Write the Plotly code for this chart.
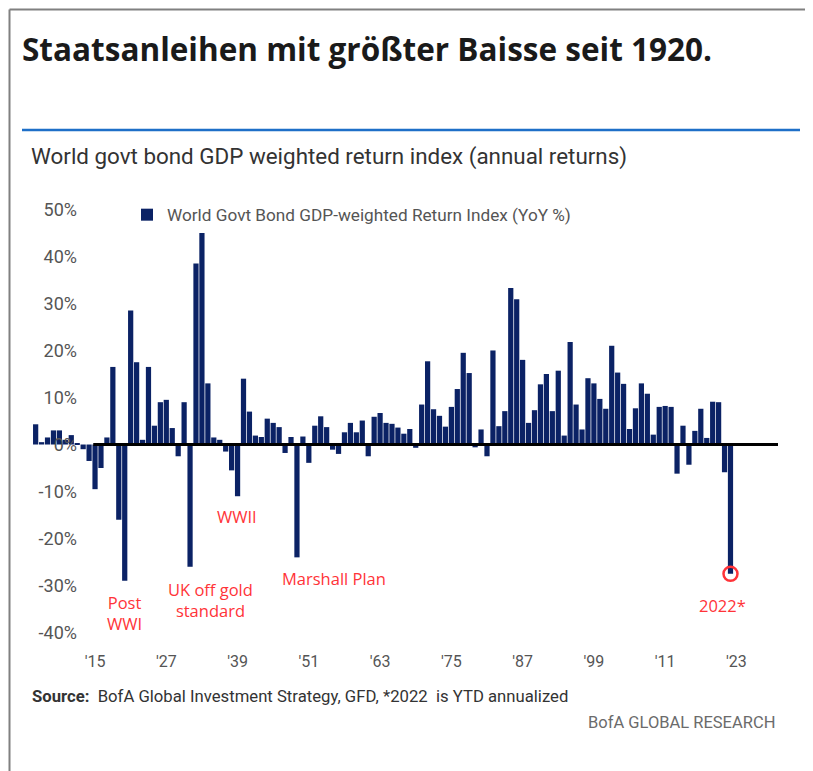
import plotly.graph_objects as go

# ---------------- data ----------------
years = list(range(1905, 2023))
returns = [
    4.3, 0.5, 1.5, 3.0, 3.0, 1.0, 2.0, 0.3, -1.0, -3.5,          # 1905-1914
    -9.5, -5.0, 1.5, 16.5, -16.0, -29.0, 28.5, 17.5, 1.0, 16.5,  # 1915-1924
    4.0, 9.0, 9.5, 3.5, -2.5, 9.0, -26.0, 38.5, 45.0, 13.0,      # 1925-1934
    1.5, 1.0, -1.5, -5.5, -11.0, 14.0, 7.0, 1.9, 1.6, 5.5,       # 1935-1944
    4.6, 3.7, -1.8, 1.6, -24.0, 1.7, -3.9, 4.0, 6.0, 3.7,        # 1945-1954
    -1.1, -2.0, 2.6, 4.6, 2.6, 5.1, -2.5, 5.9, 6.7, 4.6,         # 1955-1964
    4.4, 3.6, 2.3, 3.3, -0.7, 8.5, 17.7, 7.5, 6.1, 3.8,          # 1965-1974
    8.0, 11.8, 19.5, 15.2, -0.6, 3.2, -2.5, 20.0, 3.9, 7.1,      # 1975-1984
    33.3, 30.9, 18.0, 4.6, 7.3, 12.8, 15.0, 7.1, 15.7, 1.9,      # 1985-1994
    21.8, 8.5, 3.2, 14.1, 13.0, 9.7, 7.6, 21.0, 15.3, 12.9,      # 1995-2004
    3.3, 7.7, 13.0, 10.8, 2.1, 8.0, 8.2, 8.0, -6.2, 4.0,         # 2005-2014
    -4.3, 2.9, 7.6, 1.4, 9.1, 9.0, -5.9, -27.5,                  # 2015-2022
]
assert len(years) == len(returns)

tick_years = [1915, 1927, 1939, 1951, 1963, 1975, 1987, 1999, 2011, 2023]
tick_labels = ["'15", "'27", "'39", "'51", "'63", "'75", "'87", "'99", "'11", "'23"]
y_ticks = [50, 40, 30, 20, 10, 0, -10, -20, -30, -40]
y_tick_labels = [f"{v}%" for v in y_ticks]

events = [
    ("Post<br>WWI", 1920, -35.8),
    ("UK off gold<br>standard", 1934.4, -33.0),
    ("WWII", 1938.9, -15.4),
    ("Marshall Plan", 1955.2, -28.4),
    ("2022*", 2020.6, -34.2),
]

series_name = "World Govt Bond GDP-weighted Return Index (YoY %)"

# ---------------- style ----------------
NAVY = "#0b2265"
RED = "#ff3338"
GRAY = "#555555"
COND = "Roboto, sans-serif"

# the page body adds an 8px offset; the figure is sized to fill the rest of the window
OFF = 8
W, H = 813 - OFF, 771 - OFF
# plot area in screen pixels: x 30..778, y 200..642
ML, MR, MT, MB = 30 - OFF, 813 - 778, 200 - OFF, 771 - 642
pw = W - ML - MR
ph = H - MT - MB


def px_x(p):   # screen pixel -> paper x
    return (p - OFF - ML) / pw


def px_y(p):   # screen pixel -> paper y
    return (OFF + MT + ph - p) / ph


fig = go.Figure()
fig.add_trace(go.Bar(
    x=years, y=returns, name=series_name,
    marker=dict(color=NAVY, line=dict(width=0)),
    showlegend=True,
))

fig.update_layout(
    width=W, height=H,
    margin=dict(l=ML, r=MR, t=MT, b=MB, pad=0),
    paper_bgcolor="white", plot_bgcolor="white",
    bargap=0.12,
    title=dict(
        text="<b>Staatsanleihen mit größter Baisse seit 1920.</b>",
        x=(22 - OFF) / W, xanchor="left", y=1 - (50 - OFF) / H, yanchor="middle",
        font=dict(family="Open Sans, sans-serif", size=31.5, color="#1a1a1a"),
    ),
    xaxis=dict(
        range=[1904.05, 2030.0],
        tickvals=tick_years, ticktext=tick_labels,
        showgrid=False, zeroline=False, showline=False, ticks="",
        ticklabelstandoff=8,
        tickfont=dict(family=COND, size=16, color=GRAY),
    ),
    yaxis=dict(
        range=[-42, 52],
        tickvals=y_ticks, ticktext=y_tick_labels,
        showgrid=False, zeroline=False, showline=False, ticks="",
        anchor="free", position=px_x(77),
        tickfont=dict(family=COND, size=18, color=GRAY),
    ),
    legend=dict(
        x=px_x(127), xanchor="left", y=px_y(215), yanchor="middle",
        bgcolor="rgba(0,0,0,0)", itemwidth=30,
        font=dict(family=COND, size=17.2, color=GRAY),
    ),
    showlegend=True,
)

# zero line (starts at 1915 as in the original)
fig.add_shape(type="line", xref="x", yref="y", x0=1914.7, x1=2030.0, y0=0, y1=0,
              line=dict(color="black", width=3), layer="above")

# highlight circle around latest value
fig.add_shape(type="circle", xref="x", yref="y",
              xsizemode="pixel", ysizemode="pixel",
              xanchor=years[-1], yanchor=returns[-1],
              x0=-7, x1=7, y0=-7, y1=7,
              line=dict(color=RED, width=2.5), layer="above")

# blue rule under the headline
fig.add_shape(type="line", xref="paper", yref="paper",
              x0=px_x(22), x1=px_x(800), y0=px_y(130), y1=px_y(130),
              line=dict(color="#1e6fc8", width=2.5))

# gray frame (top and left)
fig.add_shape(type="line", xref="paper", yref="paper",
              x0=px_x(9.5), x1=px_x(813), y0=px_y(9.5), y1=px_y(9.5),
              line=dict(color="#808080", width=2))
fig.add_shape(type="line", xref="paper", yref="paper",
              x0=px_x(9.5), x1=px_x(9.5), y0=px_y(9.5), y1=px_y(771),
              line=dict(color="#808080", width=2))

# subtitle
fig.add_annotation(
    text="World govt bond GDP weighted return index (annual returns)",
    xref="paper", yref="paper", x=px_x(29), y=px_y(157),
    xanchor="left", yanchor="middle", showarrow=False,
    font=dict(family=COND, size=22.4, color="#333333"),
)

# event labels
for txt, xv, yv in events:
    fig.add_annotation(text=txt, x=xv, y=yv, xref="x", yref="y",
                       showarrow=False, xanchor="center", yanchor="middle",
                       font=dict(family="Open Sans, sans-serif", size=16.5, color=RED))

# source
fig.add_annotation(
    text="<b>Source:</b>  BofA Global Investment Strategy, GFD, *2022  is YTD annualized",
    xref="paper", yref="paper", x=px_x(30), y=px_y(696),
    xanchor="left", yanchor="middle", showarrow=False,
    font=dict(family=COND, size=16.7, color="#333333"),
)
fig.add_annotation(
    text="BofA GLOBAL RESEARCH",
    xref="paper", yref="paper", x=px_x(777), y=px_y(722),
    xanchor="right", yanchor="middle", showarrow=False,
    font=dict(family=COND, size=16.5, color="#6b6b6b"),
)

fig.write_html("out.html")
